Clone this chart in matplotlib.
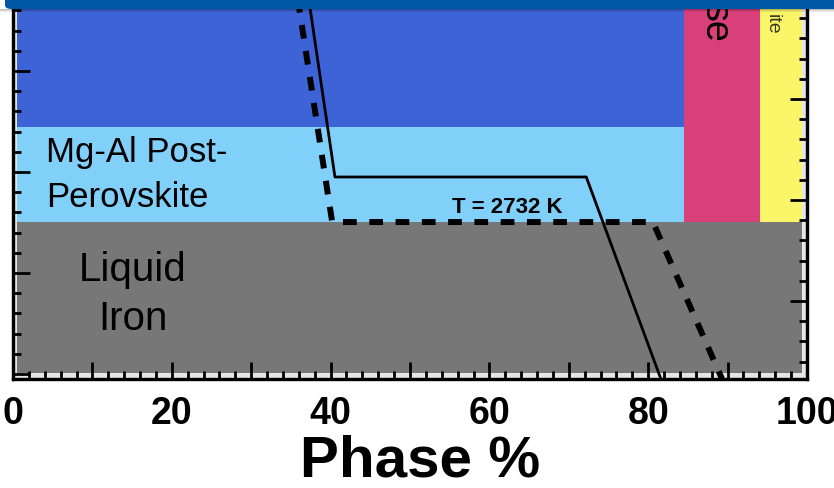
import matplotlib
matplotlib.use("Agg")
import matplotlib.pyplot as plt
from matplotlib.patches import Rectangle, FancyBboxPatch
from matplotlib.ticker import MultipleLocator, FuncFormatter

plt.rcParams["font.family"] = ["Liberation Sans", "DejaVu Sans"]

# phase fields (x = phase %, y = depth in tick units)
region_x0 = [0, 0, 0, 84.5, 94.1]
region_x1 = [100, 84.5, 84.5, 94.1, 100]
region_y0 = [-0.25, 7.52, 12.23, 7.52, 7.52]
region_y1 = [7.52, 12.23, 21, 21, 21]
region_colors = ["#777777", "#80d0fa", "#3d63d6", "#d9407a", "#faf569"]

# temperature profiles
solid_x = [36.7, 40.55, 72.2, 81.6]
solid_y = [20.0, 9.75, 9.75, -0.25]
dashed_x = [35.3, 40.2, 80.6, 89.3]
dashed_y = [20.0, 7.52, 7.52, -0.25]

x_ticks_labeled = [0, 20, 40, 60, 80, 100]

W, H = 834, 488
fig = plt.figure(figsize=(W / 100, H / 100), dpi=100)
ax = fig.add_axes([13 / W, (H - 379) / H, (807 - 13) / W, (379 + 23) / H])
ax.set_facecolor("#e6e6e6")
ax.set_xlim(0, 100)
ax.set_ylim(-0.25, 19.65)

# fills sit a few pixels inside the frame
for x0, x1, y0, y1, c in zip(region_x0, region_x1, region_y0, region_y1, region_colors):
    x0 = max(x0, 0.45)
    x1 = min(x1, 99.4)
    y0 = max(y0, 0.05)
    ax.add_patch(Rectangle((x0, y0), x1 - x0, y1 - y0, facecolor=c, edgecolor="none", zorder=1))

ax.plot(solid_x, solid_y, color="black", lw=2.0, zorder=3)
ax.plot(dashed_x, dashed_y, color="black", lw=4.3, linestyle=(0, (2.3, 2.1)),
        dash_capstyle="butt", zorder=3)

# va="baseline" on multi-line text pins the last line
ax.text(4.2, 8.27, "Mg-Al Post-\nPerovskite", fontsize=25, ha="left", va="baseline",
        linespacing=1.45, zorder=4)
ax.text(15.1, 2.18, "Liquid\nIron", fontsize=29, ha="center", va="baseline",
        linespacing=1.38, zorder=4)
ax.text(62.2, 7.97, "T = 2732 K", fontsize=16, fontweight="bold", ha="center",
        va="baseline", zorder=4)
ax.text(87.2, 16.39, "se", fontsize=27, rotation=270, rotation_mode="anchor",
        ha="right", va="baseline", zorder=4)
ax.text(95.1, 16.78, "ite", fontsize=14, rotation=270, rotation_mode="anchor",
        ha="right", va="baseline", color="#3a3a20", zorder=4)

for s in ax.spines.values():
    s.set_linewidth(2.3)

ax.xaxis.set_major_locator(MultipleLocator(10))
ax.xaxis.set_minor_locator(MultipleLocator(2))
ax.xaxis.set_major_formatter(FuncFormatter(
    lambda v, p: f"{v:.0f}" if round(v) in x_ticks_labeled else ""))
ax.yaxis.set_major_locator(MultipleLocator(5))
ax.yaxis.set_minor_locator(MultipleLocator(1))
ax.yaxis.set_major_formatter(FuncFormatter(lambda v, p: ""))
ax.tick_params(which="both", direction="in", width=2.0, color="black",
               top=False, right=False)
ax.tick_params(which="major", length=12.5)
ax.tick_params(which="minor", length=6)
ax.tick_params(axis="x", which="major", labelsize=27, pad=12)
for lab in ax.get_xticklabels():
    lab.set_fontweight("bold")

ax2 = ax.twinx()
ax2.set_ylim(-0.25 + 1.39, 19.65 + 1.39)
ax2.yaxis.set_major_locator(MultipleLocator(5))
ax2.yaxis.set_minor_locator(MultipleLocator(1))
ax2.yaxis.set_major_formatter(FuncFormatter(lambda v, p: ""))
ax2.tick_params(which="both", direction="in", width=2.0, color="black")
ax2.tick_params(which="major", length=12.5)
ax2.tick_params(which="minor", length=6)
for s in ax2.spines.values():
    s.set_linewidth(2.3)

ax.set_xlabel("Phase %", fontsize=42, fontweight="bold")
ax.xaxis.set_label_coords(0.513, -0.138)
ax.xaxis.label.set_va("top")

# slide header bar across the top
for i, a in enumerate([0.25, 0.15, 0.07]):
    fig.patches.append(Rectangle((0, (H - 10 - i) / H), 1, 1 / H, transform=fig.transFigure,
                                 facecolor="black", alpha=a, edgecolor="none", zorder=9))
fig.patches.append(FancyBboxPatch((5 / W, (H - 9) / H), (W + 20) / W, 30 / H,
                                  boxstyle="round,pad=0,rounding_size=0.008",
                                  transform=fig.transFigure, facecolor="#0057a6",
                                  edgecolor="none", zorder=10))

fig.savefig("out.png", dpi=100)
